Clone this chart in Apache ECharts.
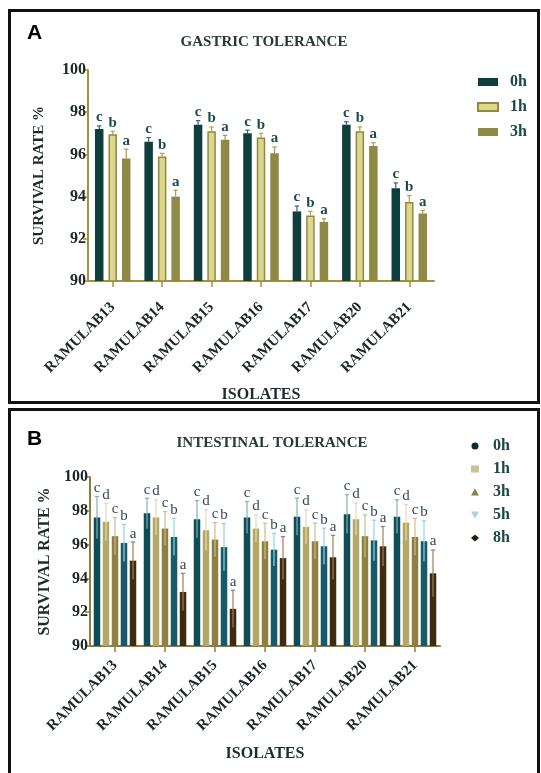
<!DOCTYPE html>
<html>
<head>
<meta charset="utf-8">
<script src="https://cdn.jsdelivr.net/npm/echarts@6/dist/echarts.min.js"></script>
<style>
html, body { margin: 0; padding: 0; background: #ffffff; }
#chart { width: 541px; height: 773px; }
</style>
</head>
<body>
<div id="chart"></div>
<script>
// Isolates on the category axis (shared by both panels)
const isolates = ['RAMULAB13', 'RAMULAB14', 'RAMULAB15', 'RAMULAB16', 'RAMULAB17', 'RAMULAB20', 'RAMULAB21'];

// Survival-rate value axis
const yMin = 90;
const yMax = 100;
const yStep = 2;

// Panel A: gastric tolerance, mean survival % and SD
const gastricHours = ['0h', '1h', '3h'];
const gastric0h = [97.2, 96.6, 97.4, 97.0, 93.3, 97.4, 94.4];
const gastric1h = [96.95, 95.9, 97.1, 96.8, 93.1, 97.1, 93.75];
const gastric3h = [95.8, 94.0, 96.7, 96.05, 92.8, 96.4, 93.2];
const gastricSd0h = [0.15, 0.2, 0.2, 0.15, 0.25, 0.15, 0.25];
const gastricSd1h = [0.15, 0.15, 0.2, 0.2, 0.2, 0.2, 0.3];
const gastricSd3h = [0.45, 0.3, 0.2, 0.3, 0.15, 0.15, 0.15];
const gastricLetters = ['c', 'b', 'a'];

// Panel B: intestinal tolerance, mean survival % and SD
const intestinalHours = ['0h', '1h', '3h', '5h', '8h'];
const intestinal0h = [97.6, 97.85, 97.5, 97.6, 97.65, 97.8, 97.65];
const intestinal1h = [97.35, 97.6, 96.85, 96.95, 97.05, 97.5, 97.3];
const intestinal3h = [96.5, 96.95, 96.3, 96.2, 96.2, 96.5, 96.45];
const intestinal5h = [96.1, 96.45, 95.85, 95.7, 95.9, 96.25, 96.2];
const intestinal8h = [95.05, 93.2, 92.2, 95.2, 95.25, 95.9, 94.3];
const intestinalSd0h = [1.25, 0.9, 1.1, 0.95, 1.1, 1.15, 1.0];
const intestinalSd1h = [1.1, 1.05, 1.2, 0.8, 1.0, 0.96, 1.06];
const intestinalSd3h = [1.1, 1.0, 1.0, 1.07, 1.07, 1.26, 1.1];
const intestinalSd5h = [1.1, 1.1, 1.4, 0.97, 1.07, 1.2, 1.2];
const intestinalSd8h = [1.1, 1.1, 1.1, 1.27, 1.3, 1.17, 1.38];
const intestinalLetters = ['c', 'd', 'c', 'b', 'a'];

const SERIF = '"Liberation Serif", "DejaVu Serif", serif';

// Bar geometry per panel
const gastricBar = { width: 8.5, gapPx: 5 };
const intestinalBar = { width: 6.5, gapPx: 2.5 };

const gastricStyle = [
  { color: '#0f3f3c' },
  { color: '#ddd68e', borderColor: '#8f8a3c', borderWidth: 1.5 },
  { color: '#8e8944' }
];
const gastricErrColor = ['#2e6b66', '#a9a257', '#a39c55'];

const intestinalStyle = [
  { color: '#0f4c55' },
  { color: '#b5a867' },
  { color: '#8d8042' },
  { color: '#175a6a' },
  { color: '#3e2c0f' }
];
const intestinalErrColor = ['#7fb3b8', '#e3dbb6', '#c9be92', '#93d3e2', '#9a7e62'];
const intestinalLegendColor = ['#0b2a33', '#cbc193', '#8a8050', '#a7d3de', '#2a1a08'];
const intestinalLegendIcon = [
  'circle',
  'rect',
  'triangle',
  'path://M0,0 L10,0 L5,9 Z',
  'diamond'
];

function barSeries(name, axisIdx, values, bar, style) {
  return {
    type: 'bar',
    name: name,
    xAxisIndex: axisIdx,
    yAxisIndex: axisIdx,
    data: values,
    barWidth: bar.width,
    barGap: (bar.gapPx / bar.width * 100).toFixed(1) + '%',
    itemStyle: style,
    emphasis: { disabled: true },
    z: 2
  };
}

// Error bar (SD) drawn from the axis scale, with the significance letter above it
function errorSeries(name, axisIdx, means, sds, idx, n, bar, color, letter, font, textColor, symmetric) {
  const step = bar.width + bar.gapPx;
  return {
    type: 'custom',
    name: name,
    xAxisIndex: axisIdx,
    yAxisIndex: axisIdx,
    silent: true,
    z: 5,
    data: means.map((m, i) => [i, m, sds[i]]),
    encode: { x: 0, y: 1 },
    renderItem: function (params, api) {
      const i = api.value(0);
      const m = api.value(1);
      const sd = api.value(2);
      const off = (idx - (n - 1) / 2) * step;
      const top = api.coord([i, m + sd]);
      const base = api.coord([i, symmetric ? m - sd : m]);
      const x = top[0] + off;
      const cap = 2.2;
      return {
        type: 'group',
        children: [
          { type: 'line', shape: { x1: x, y1: base[1], x2: x, y2: top[1] }, style: { stroke: color, lineWidth: 1.2 } },
          { type: 'line', shape: { x1: x - cap, y1: top[1], x2: x + cap, y2: top[1] }, style: { stroke: color, lineWidth: 1.2 } },
          { type: 'text', x: x, y: top[1] - 1, style: { text: letter, align: 'center', verticalAlign: 'bottom', font: font, fill: textColor } }
        ]
      };
    }
  };
}

function catAxis(gridIdx, axisColor, margin, nameGap) {
  return {
    type: 'category',
    gridIndex: gridIdx,
    data: isolates,
    name: 'ISOLATES',
    nameLocation: 'middle',
    nameGap: nameGap,
    nameTextStyle: { fontFamily: SERIF, fontWeight: 'bold', fontSize: 16, color: '#1e2b2b' },
    axisLine: { show: true, lineStyle: { color: axisColor, width: 2 } },
    axisTick: { show: true, alignWithLabel: true, length: 6, lineStyle: { color: axisColor, width: 1.5 } },
    axisLabel: {
      rotate: 45,
      margin: margin,
      interval: 0,
      fontFamily: SERIF,
      fontWeight: 'bold',
      fontSize: 15,
      color: '#1b2626'
    },
    splitLine: { show: false }
  };
}

function valAxis(gridIdx, axisColor, nameGap, nameSize) {
  return {
    type: 'value',
    gridIndex: gridIdx,
    min: yMin,
    max: yMax,
    interval: yStep,
    name: 'SURVIVAL RATE %',
    nameLocation: 'middle',
    nameGap: nameGap,
    nameTextStyle: { fontFamily: SERIF, fontWeight: 'bold', fontSize: nameSize, color: '#1e2b2b' },
    axisLine: { show: true, lineStyle: { color: axisColor, width: 2 } },
    axisTick: { show: true, length: 5, lineStyle: { color: axisColor, width: 1.5 } },
    axisLabel: { margin: 2, fontFamily: SERIF, fontWeight: 'bold', fontSize: 16, color: '#1b2626' },
    splitLine: { show: false }
  };
}

const series = [];
const gastricValues = [gastric0h, gastric1h, gastric3h];
const gastricSds = [gastricSd0h, gastricSd1h, gastricSd3h];
gastricHours.forEach((h, k) => {
  series.push(barSeries('Gastric ' + h, 0, gastricValues[k], gastricBar, gastricStyle[k]));
});
gastricHours.forEach((h, k) => {
  series.push(errorSeries('Gastric SD ' + h, 0, gastricValues[k], gastricSds[k], k, gastricHours.length,
    gastricBar, gastricErrColor[k], gastricLetters[k], 'bold 15px ' + SERIF, '#1d4a4a', false));
});

const intestinalValues = [intestinal0h, intestinal1h, intestinal3h, intestinal5h, intestinal8h];
const intestinalSds = [intestinalSd0h, intestinalSd1h, intestinalSd3h, intestinalSd5h, intestinalSd8h];
intestinalHours.forEach((h, k) => {
  series.push(barSeries('Intestinal ' + h, 1, intestinalValues[k], intestinalBar, intestinalStyle[k]));
});
intestinalHours.forEach((h, k) => {
  series.push(errorSeries('Intestinal SD ' + h, 1, intestinalValues[k], intestinalSds[k], k, intestinalHours.length,
    intestinalBar, intestinalErrColor[k], intestinalLetters[k], '15px ' + SERIF, '#34465a', true));
});

const legendText = { fontFamily: SERIF, fontWeight: 'bold', fontSize: 16, color: '#1d4848' };

const option = {
  backgroundColor: '#ffffff',
  animation: false,
  title: [
    { text: 'A', left: 22, top: 18, textStyle: { fontFamily: '"Liberation Sans", Arial, sans-serif', fontWeight: 'bold', fontSize: 21, color: '#000' } },
    { text: 'GASTRIC TOLERANCE', left: 259, top: 30, textAlign: 'center', textStyle: { fontFamily: SERIF, fontWeight: 'bold', fontSize: 15, color: '#283838' } },
    { text: 'B', left: 22, top: 424, textStyle: { fontFamily: '"Liberation Sans", Arial, sans-serif', fontWeight: 'bold', fontSize: 21, color: '#000' } },
    { text: 'INTESTINAL TOLERANCE', left: 267, top: 431, textAlign: 'center', textStyle: { fontFamily: SERIF, fontWeight: 'bold', fontSize: 15, color: '#283838' } }
  ],
  legend: [
    {
      orient: 'vertical',
      left: 472,
      top: 69,
      itemWidth: 20,
      itemHeight: 8,
      itemGap: 9,
      selectedMode: false,
      data: gastricHours.map(h => ({ name: 'Gastric ' + h, icon: 'rect' })),
      formatter: name => name.split(' ').pop(),
      textStyle: Object.assign({ padding: [0, 0, 0, 7] }, legendText)
    },
    {
      orient: 'vertical',
      left: 466,
      top: 433,
      itemWidth: 8,
      itemHeight: 7,
      itemGap: 7,
      selectedMode: false,
      data: intestinalHours.map((h, k) => ({
        name: 'Intestinal ' + h,
        icon: intestinalLegendIcon[k],
        itemStyle: { color: intestinalLegendColor[k], borderWidth: 0 }
      })),
      formatter: name => name.split(' ').pop(),
      textStyle: Object.assign({ padding: [0, 0, 0, 9] }, legendText)
    }
  ],
  grid: [
    { left: 88, top: 70, width: 346, height: 211 },
    { left: 90, top: 477, width: 350, height: 169 }
  ],
  xAxis: [
    catAxis(0, '#a3923a', 24, 106),
    catAxis(1, '#8f7d3a', 17, 100)
  ],
  yAxis: [
    valAxis(0, '#a3923a', 41, 15),
    valAxis(1, '#8f7d3a', 31, 16)
  ],
  series: series,
  graphic: [
    { type: 'rect', silent: true, z: 100, shape: { x: 9.5, y: 10.5, width: 529, height: 392 }, style: { fill: 'none', stroke: '#111', lineWidth: 3 } },
    { type: 'rect', silent: true, z: 100, shape: { x: 9.5, y: 409.5, width: 529, height: 380 }, style: { fill: 'none', stroke: '#111', lineWidth: 3 } }
  ]
};

const chart = echarts.init(document.getElementById('chart'), null, { renderer: 'canvas' });
chart.setOption(option);
</script>
</body>
</html>
